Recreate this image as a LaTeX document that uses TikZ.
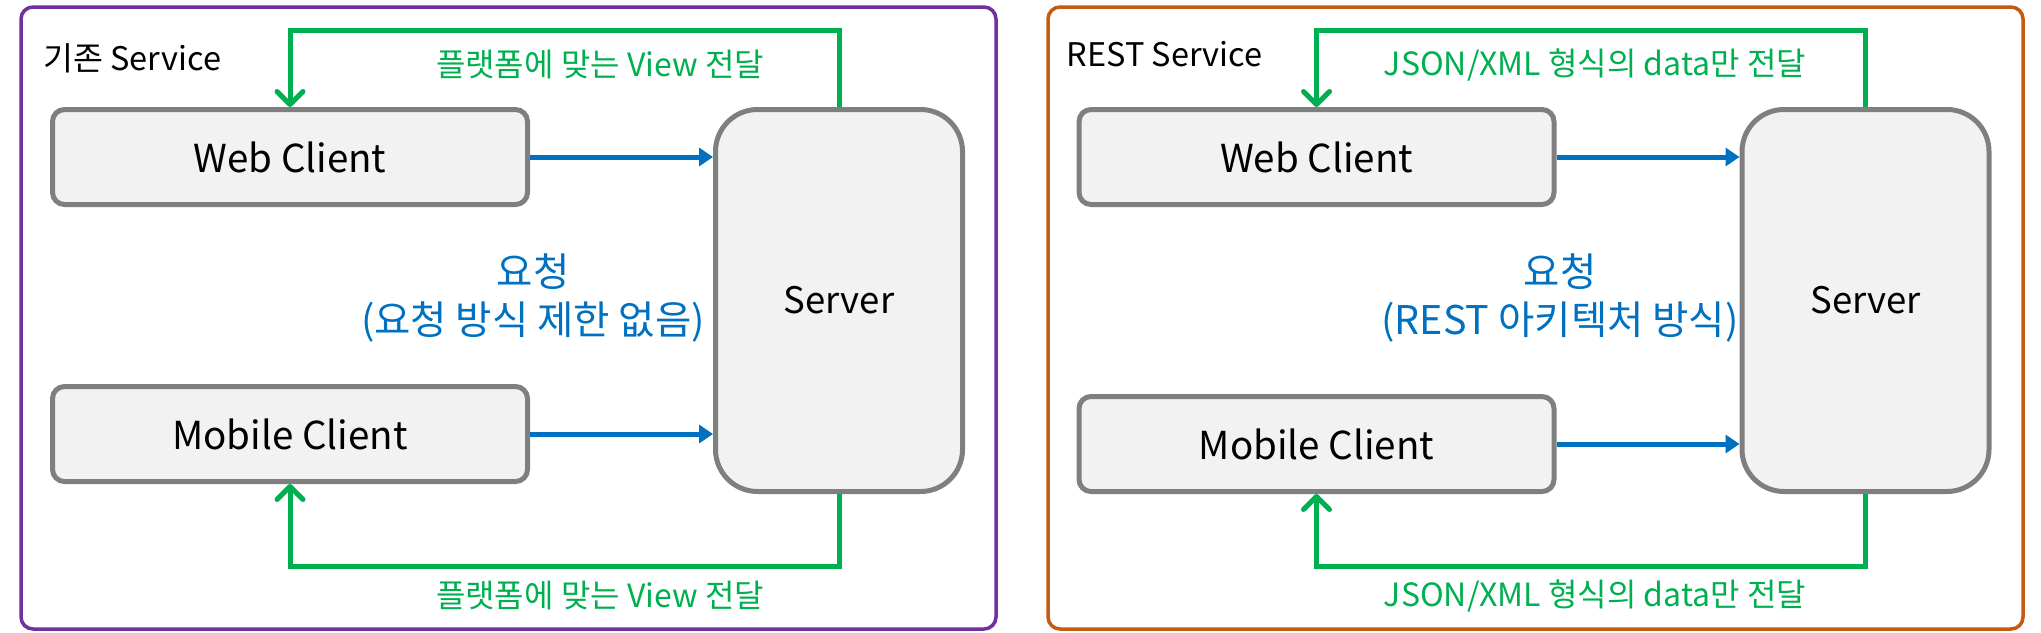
\documentclass[tikz,border=0pt]{standalone}
\usepackage{fontspec}
\setmainfont{Noto Sans CJK KR}
\usetikzlibrary{arrows.meta}
\definecolor{amethyst}{RGB}{112, 48, 160}
\definecolor{pumpkin}{RGB}{197, 90, 17}
\definecolor{emerald}{RGB}{0, 176, 80}
\definecolor{belize}{RGB}{0, 112, 192}
\definecolor{concrete}{RGB}{127, 127, 127}
\definecolor{clouds}{RGB}{242, 242, 242}
\tikzset{
  panel/.style={rounded corners=12pt, line width=3.5pt},
  client/.style={draw=concrete, fill=clouds, line width=5pt, rounded corners=12pt,
                 minimum width=475pt, minimum height=95pt, font=\fontsize{38.5}{46}\selectfont},
  server/.style={draw=concrete, fill=clouds, line width=5pt, rounded corners=42pt,
                 minimum width=247pt, minimum height=382pt, font=\fontsize{36.5}{44}\selectfont},
  reply/.style={draw=emerald, line width=5pt, -{Straight Barb[round, length=13pt, width=26pt]}},
  request/.style={draw=belize, line width=5pt, -{Triangle[length=14pt, width=18pt]}},
  replytext/.style={text=emerald, font=\fontsize{32}{38}\selectfont},
  requesttext/.style={text=belize, align=center, font=\fontsize{39.5}{48}\selectfont},
  title/.style={anchor=west, font=\fontsize{32.5}{38}\selectfont}
}
\begin{document}
\begin{tikzpicture}[x=1pt, y=-1pt]
  \useasboundingbox (0,0) rectangle (2041,632);
  % frames
  \draw[panel, amethyst] (21,7) rectangle (996,629);
  \draw[panel, pumpkin]  (1048,7) rectangle (2023,629);

  % legacy service
  \node[title] (titleL) at (40,58) {기존 Service};
  \node[client] (webL) at (290,157) {Web Client};
  \node[client] (mobL) at (290,434) {Mobile Client};
  \node[server] (srvL) at (839,300.5) {Server};
  \coordinate (topL) at (560,30);
  \coordinate (botL) at (560,566);
  \draw[request] (webL.east) -- (webL.east -| srvL.west);
  \draw[request] (mobL.east) -- (mobL.east -| srvL.west);
  \draw[reply] (srvL.north) |- (topL) -| (webL.north);
  \draw[reply] (srvL.south) |- (botL) -| (mobL.south);
  \node[replytext] (sendTopL) at (600,65) {플랫폼에 맞는 View 전달};
  \node[replytext] (sendBotL) at (600,596) {플랫폼에 맞는 View 전달};
  \node[requesttext] (reqL) at (533,298) {요청\\(요청 방식 제한 없음)};

  % REST service
  \node[title] (titleR) at (1063,54) {REST Service};
  \node[client] (webR) at (1316.5,157) {Web Client};
  \node[client] (mobR) at (1316.5,444) {Mobile Client};
  \node[server] (srvR) at (1865.5,300.5) {Server};
  \coordinate (topR) at (1590,30);
  \coordinate (botR) at (1590,566);
  \draw[request] (webR.east) -- (webR.east -| srvR.west);
  \draw[request] (mobR.east) -- (mobR.east -| srvR.west);
  \draw[reply] (srvR.north) |- (topR) -| (webR.north);
  \draw[reply] (srvR.south) |- (botR) -| (mobR.south);
  \node[replytext] (sendTopR) at (1595,65) {JSON/XML 형식의 data만 전달};
  \node[replytext] (sendBotR) at (1595,596) {JSON/XML 형식의 data만 전달};
  \node[requesttext] (reqR) at (1560,298) {요청\\(REST 아키텍처 방식)};
\end{tikzpicture}
\end{document}
